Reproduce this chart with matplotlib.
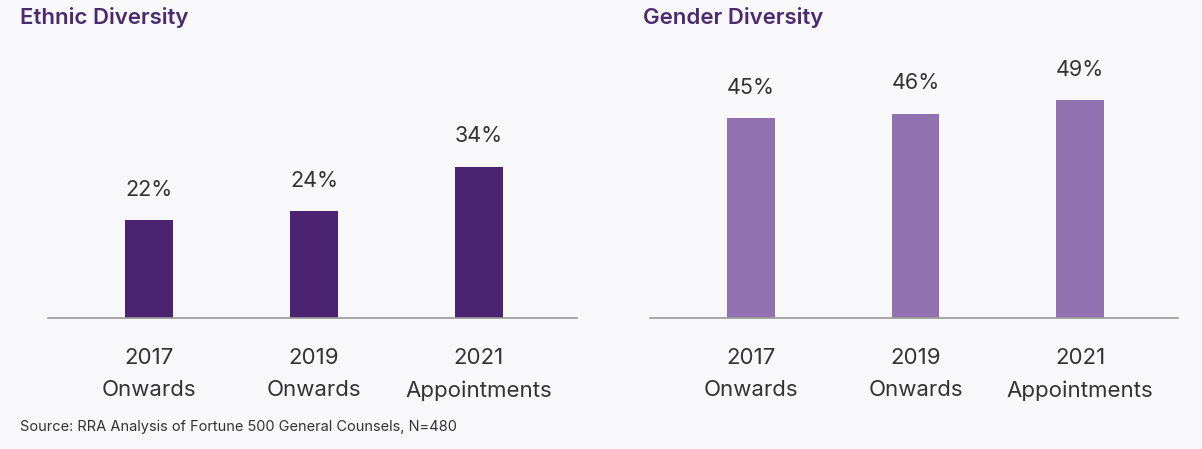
import matplotlib
matplotlib.use("Agg")
import matplotlib.pyplot as plt

plt.rcParams['font.family'] = ['Inter', 'DejaVu Sans']

categories = ["2017\nOnwards", "2019\nOnwards", "2021\nAppointments"]
ethnic = [22, 24, 34]
gender = [45, 46, 49]
titles = ["Ethnic Diversity", "Gender Diversity"]
source = "Source: RRA Analysis of Fortune 500 General Counsels, N=480"

W, H = 1202, 449
bg = "#f8f8fa"
fig = plt.figure(figsize=(W / 100, H / 100), dpi=100, facecolor=bg)

def axrect(x0, x1, ybase, ytop):
    return [x0 / W, (H - ybase) / H, (x1 - x0) / W, (ybase - ytop) / H]

px_per = 4.44
ytop = 40
ymax = (318 - ytop) / px_per

specs = [
    (axrect(48, 577, 318, ytop), ethnic, "#4b2370", 20),
    (axrect(650, 1178, 318, ytop), gender, "#9171b0", 643),
]

for (rect, vals, color, tx), title in zip(specs, titles):
    ax = fig.add_axes(rect)
    ax.set_facecolor(bg)
    x = list(range(len(vals)))
    ax.bar(x, vals, width=48 / 165, color=color)
    ax.set_xlim(-0.612, 2.594)
    ax.set_ylim(0, ymax)
    for xi, v in zip(x, vals):
        ax.annotate(f"{v}%", (xi, v), xytext=(0, 22), textcoords="offset points",
                    ha="center", va="center", fontsize=15.5, color="#333333")
    ax.set_xticks(x)
    ax.set_xticklabels(categories, fontsize=16, color="#333333", linespacing=1.75)
    ax.tick_params(axis="x", length=0, pad=21.5)
    ax.set_yticks([])
    for s in ["top", "right", "left"]:
        ax.spines[s].set_visible(False)
    ax.spines["bottom"].set_color("#999999")
    ax.spines["bottom"].set_linewidth(1.2)
    fig.text(tx / W, 1 - 18 / H, title, fontsize=16, fontweight="semibold",
             color="#4b2a6e", ha="left", va="center")

fig.text(20 / W, 1 - 427 / H, source, fontsize=10.5, color="#333333",
         ha="left", va="center")

fig.savefig("out.png", dpi=100, facecolor=bg)
